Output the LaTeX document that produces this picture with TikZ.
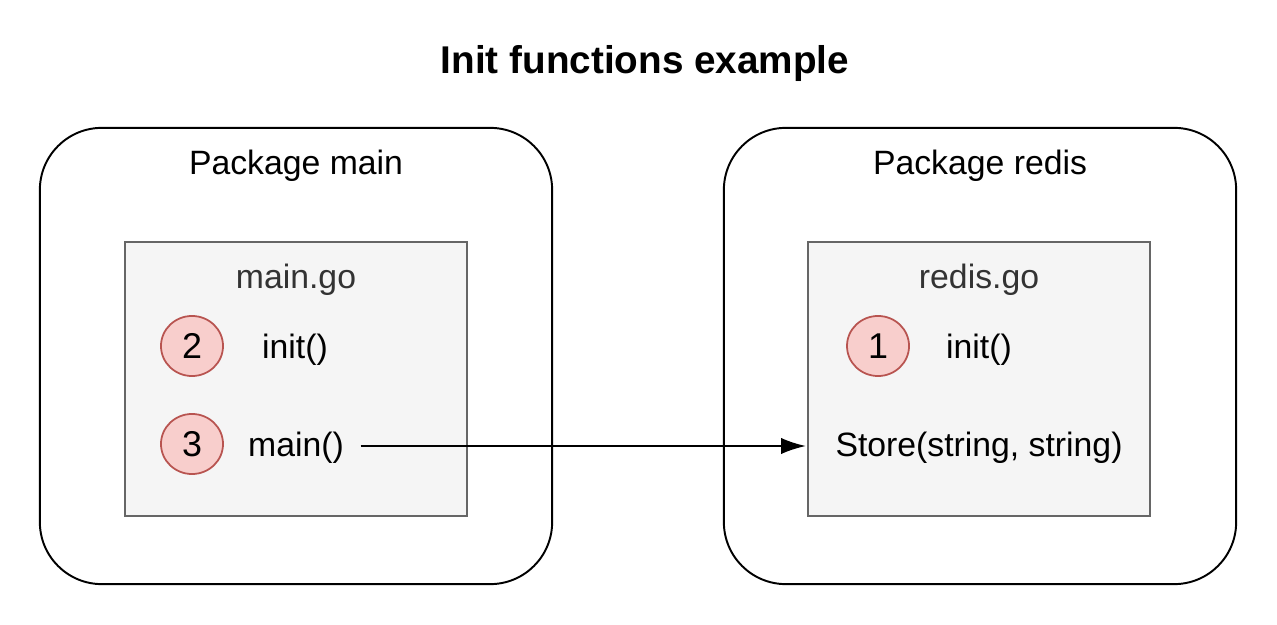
\documentclass[tikz,border=0pt]{standalone}
\usepackage{fontspec}
\setmainfont{Liberation Sans}
\usetikzlibrary{arrows.meta,shapes.geometric}
\definecolor{redfill}{HTML}{F8CECC}
\definecolor{redline}{HTML}{B85450}
\definecolor{grayfill}{HTML}{F5F5F5}
\definecolor{grayline}{HTML}{666666}
\definecolor{graytext}{HTML}{333333}
\tikzset{
  outerbox/.style={draw=black, line width=0.55pt, rounded corners=0.62cm, minimum width=5.12cm, minimum height=4.56cm, inner sep=0pt},
  filebox/.style={draw=grayline, fill=grayfill, line width=0.5pt, minimum width=3.42cm, minimum height=2.74cm, inner sep=0pt},
  lbl/.style={font=\fontsize{9.6}{11}\selectfont, inner sep=0pt, yshift=-0.035cm},
  filelbl/.style={lbl, text=graytext},
  numcirc/.style={ellipse, draw=redline, fill=redfill, line width=0.5pt, minimum width=0.62cm, minimum height=0.60cm, inner sep=0pt, font=\fontsize{10.2}{12}\selectfont},
  titlelbl/.style={font=\bfseries\fontsize{11}{13}\selectfont, inner sep=0pt, yshift=-0.035cm},
  callarrow/.style={draw=black, line width=0.45pt, -{Latex[length=7pt,width=4.6pt]}}
}
\begin{document}
\begin{tikzpicture}[x=0.01cm, y=-0.01cm]
\useasboundingbox (0,0) rectangle (1277,625);
\fill[white] (0,0) rectangle (1277,625);
\node[titlelbl] (title) at (645,60) {Init functions example};
% Package main
\node[outerbox] (pmain) at (296,356) {};
\node[lbl] (pmainlbl) at (296,162) {Package main};
\node[filebox] (fmain) at (296,379) {};
\node[filelbl] (fmainlbl) at (296,276) {main.go};
\node[numcirc] (c2) at (192,346) {2};
\node[lbl] (init2) at (295,346) {init()};
\node[numcirc] (c3) at (192,444) {3};
\node[lbl] (mainfn) at (296,444) {main()};
% Package redis
\node[outerbox] (predis) at (980,356) {};
\node[lbl] (predislbl) at (980,162) {Package redis};
\node[filebox] (fredis) at (979,379) {};
\node[filelbl] (fredislbl) at (979,276) {redis.go};
\node[numcirc] (c1) at (878,346) {1};
\node[lbl] (init1) at (979,346) {init()};
\node[lbl] (store) at (979,444) {Store(string, string)};
% call
\draw[callarrow] ([xshift=0.16cm, yshift=0.015cm]mainfn.east) -- ([xshift=-0.29cm, yshift=0.015cm]store.west);
\end{tikzpicture}
\end{document}
